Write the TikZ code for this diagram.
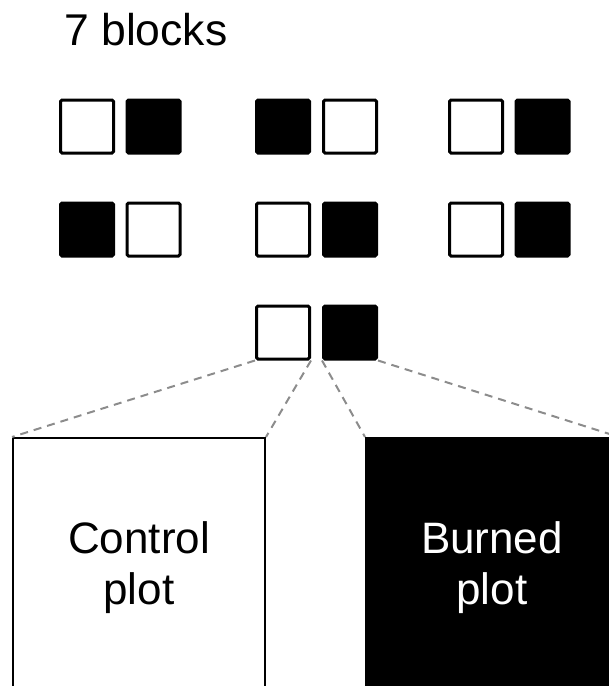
\documentclass[tikz,border=0pt]{standalone}
\usepackage{fontspec}
\setmainfont{Liberation Sans}
\definecolor{dashgray}{HTML}{8C8C8C}
\begin{document}
\begin{tikzpicture}[x=1pt,y=-1pt,
  wsq/.style={draw=black,fill=white,line width=3pt,rounded corners=1.5pt,minimum size=53pt,inner sep=0pt},
  bsq/.style={draw=black,fill=black,line width=3pt,rounded corners=1.5pt,minimum size=53pt,inner sep=0pt},
  bigbox/.style={line width=2pt,minimum width=252pt,minimum height=260pt,inner sep=0pt,align=center,
    font=\fontsize{44pt}{51pt}\selectfont},
  zoomline/.style={draw=dashgray,line width=2pt,dash pattern=on 8pt off 6pt}]
\useasboundingbox (0,0) rectangle (609,686);
\clip (0,0) rectangle (609,686);
\node[anchor=base west,inner sep=0pt,font=\fontsize{44.5pt}{51pt}\selectfont] (title) at (64,45) {7 blocks};
% row 1
\node[wsq] (a1) at (87,126.5) {};
\node[bsq] (a2) at (153.5,126.5) {};
\node[bsq] (b1) at (283,126.5) {};
\node[wsq] (b2) at (350,126.5) {};
\node[wsq] (c1) at (476,126.5) {};
\node[bsq] (c2) at (542.5,126.5) {};
% row 2
\node[bsq] (d1) at (87,229.5) {};
\node[wsq] (d2) at (153.5,229.5) {};
\node[wsq] (e1) at (283,229.5) {};
\node[bsq] (e2) at (350,229.5) {};
\node[wsq] (f1) at (476,229.5) {};
\node[bsq] (f2) at (542.5,229.5) {};
% row 3
\node[wsq] (g1) at (283,332.5) {};
\node[bsq] (g2) at (350,332.5) {};
% big boxes
\node[bigbox,draw=black,fill=white,text=black] (ctrl) at (139,568) {Control\\plot};
\node[bigbox,draw=black,fill=black,text=white] (burn) at (492,568) {Burned\\plot};
% dashed zoom lines
\draw[zoomline] (g1.south west) -- (ctrl.north west);
\draw[zoomline] (g1.south east) -- (ctrl.north east);
\draw[zoomline] (g2.south west) -- (burn.north west);
\draw[zoomline] (g2.south east) -- (burn.north east);
\end{tikzpicture}
\end{document}
